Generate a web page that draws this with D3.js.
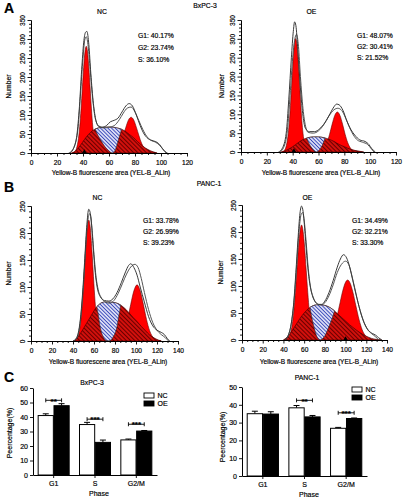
<!DOCTYPE html>
<html><head><meta charset="utf-8">
<script src="https://cdn.jsdelivr.net/npm/d3@7"></script>
<style>
body{margin:0;background:#fff}
svg{display:block}
text{font-family:"Liberation Sans",Arial,sans-serif;fill:#000;stroke:#000;stroke-width:0.18px}
</style>
</head><body>
<svg id="c" width="403" height="500"></svg>
<script>
// ================= DATA =================
// histogram axis ticks
const xTicksA = [0,20,40,60,80,100,120];
const yTicksA = [0,50,100,150,200,250,300,350];
const xTicksB = [0,20,40,60,80,100,120,140];
const yTicksB = [0,50,100,150,200,250];

// Panel A (BxPC-3) NC : [fluorescence, count]
const aNcG1 = [[31,0],[33.5,3],[35,12],[36.5,38],[37.5,70],[38.5,116],[39.5,171],[40.5,225],[41.5,266],[42.5,281],[43.5,266],[44.5,225],[45.5,171],[46.5,116],[47.5,70],[48.5,38],[50,12],[51.5,3],[54,0]];
const aNcG2 = [[60,0],[62,1],[65,5],[67,13],[69,26],[71,46],[73,68],[75,87],[77,94],[79,87],[81,68],[83,46],[85,26],[87,13],[89,5],[92,1],[94,0]];
const aNcS = [[32,0],[35,8],[38,20],[41,35],[44,48],[47,58],[50,64],[54,67],[58,68],[62,68],[66,66],[70,62],[73,56],[76,48],[79,40],[82,30],[86,18],[90,9],[94,3],[97,0]];
const aNcGap = [[48,80],[49.5,62],[51,50],[54,32],[57,16],[60,5],[62.5,0],[64.5,6],[66,20],[67.5,38],[69,55],[70.5,70],[72,80]];
const aNcRaw = [[29,0],[32,8],[35,40],[37,110],[39,220],[40.5,290],[42,318],[43,320],[44.5,285],[46,210],[48,130],[50,85],[52,70],[55,68],[58,72],[61,82],[64,86],[67,92],[70,108],[73,124],[75.5,130],[78,124],[81,100],[84,72],[87,50],[90,38],[94,32],[97,28],[99,22],[101,12],[103,4],[105,0]];
const aNcFit = [[30,0],[33,15],[36,60],[38,150],[40,250],[41.5,300],[42.5,306],[44,280],[45.5,220],[47.5,140],[49.5,90],[52,72],[56,66],[60,68],[64,72],[68,88],[71,105],[74,118],[77,121],[80,108],[83,85],[86,62],[89,44],[92,34],[96,28],[99,20],[102,8],[104,0]];
const aNcStats = ["G1: 40.17%","G2: 23.74%","S: 36.10%"];
const aNcMarker = [41];

// Panel A (BxPC-3) OE
const aOeG1 = [[31,0],[33.3,3],[34.8,13],[36.3,41],[37.3,75],[38.3,124],[39.3,183],[40.3,241],[41.3,285],[42.3,301],[43.3,285],[44.3,241],[45.3,183],[46.3,124],[47.3,75],[48.3,41],[49.8,13],[51.3,3],[54,0]];
const aOeG2 = [[58,0],[60.6,1],[62.6,4],[64.6,11],[66.6,25],[68.6,47],[70.6,74],[72.6,97],[74.6,106],[76.6,97],[78.6,74],[80.6,47],[82.6,25],[84.6,11],[86.6,4],[88.6,1],[91,0]];
const aOeS = [[32,0],[36,6],[40,14],[44,24],[48,33],[52,38],[56,40],[60,40],[64,38],[68,34],[72,28],[76,20],[80,14],[85,7],[90,3],[95,0]];
const aOeGap = [[49.5,50],[51,36],[52.5,24],[54.5,12],[56.5,4],[58.5,0],[60.5,5],[62.5,15],[64,27],[65.5,40],[67,50]];
const aOeRaw = [[29,0],[32,10],[35,50],[37,140],[39,250],[40.5,320],[41.5,345],[42.5,335],[44,270],[46,170],[48,95],[50,62],[53,54],[57,54],[61,62],[65,78],[69,102],[72,120],[74,127],[76,125],[79,110],[82,82],[85,60],[88,45],[92,32],[96,28],[99,20],[101,10],[104,0]];
const aOeFit = [[30,0],[33,12],[36,60],[38,150],[40,250],[42,305],[43,312],[44.5,280],[46,200],[48,115],[50,68],[52,52],[56,50],[60,56],[64,72],[68,95],[72,112],[75,116],[78,110],[81,90],[84,65],[87,45],[90,32],[94,26],[98,20],[101,8],[103,0]];
const aOeStats = ["G1: 48.07%","G2: 30.41%","S: 21.52%"];
const aOeMarker = [41];

// Panel B (PANC-1) NC
const bNcG1 = [[40,0],[42,1],[44,5],[46,18],[47.5,39],[49,73],[50.5,119],[52,169],[53.5,209],[55,224],[56.5,209],[58,169],[59.5,119],[61,73],[62.5,39],[64,18],[66,5],[68,1],[70,0]];
const bNcG2 = [[78,0],[81,1],[85,5],[89,19],[92,40],[95,68],[98,93],[101,104],[104,93],[107,68],[110,40],[113,19],[117,5],[121,1],[124,0]];
const bNcS = [[41,0],[45,8],[49,20],[53,33],[57,46],[61,59],[65,68],[70,72],[75,72],[80,71],[85,67],[89,61],[93,53],[97,44],[101,36],[105,27],[109,19],[113,11],[117,6],[121,2],[124,0]];
const bNcGap = [[62,80],[63,60],[64,50],[65.5,30],[67,17],[69,7],[71,1.5],[73.5,0],[76,1.5],[78,7],[80.5,17],[82,28],[83.5,45],[85,62],[86,80]];
const bNcRaw = [[40,0],[43,5],[45,15],[47,40],[49,85],[51,145],[53,210],[55,244],[57,230],[59,180],[61,130],[63,100],[66,82],[70,75],[74,74],[78,78],[82,90],[86,108],[90,128],[93,140],[95,143],[98,136],[101,122],[104,100],[108,72],[112,45],[116,28],[120,20],[124,16],[127,12],[130,4],[132,0]];
const bNcFit = [[41,0],[44,7],[46,22],[48,55],[50,105],[52,170],[54,222],[56,236],[58,210],[60,160],[62,118],[64,95],[67,80],[71,72],[75,70],[79,75],[83,88],[87,106],[91,124],[95,137],[99,142],[102,136],[105,116],[108,90],[112,58],[116,34],[120,20],[124,12],[128,6],[131,0]];
const bNcStats = ["G1: 33.78%","G2: 26.99%","S: 39.23%"];
const bNcMarker = [];

// Panel B (PANC-1) OE
const bOeG1 = [[41,0],[44,2],[46.5,11],[48.5,29],[50,53],[51.5,88],[53,129],[54.5,171],[56,201],[57.5,213],[59,201],[60.5,171],[62,129],[63.5,88],[65,53],[66.5,29],[68.5,11],[71,2],[74,0]];
const bOeG2 = [[77,0],[80,1.5],[84,6],[88,19],[91,38],[94,63],[97,89],[100,107],[102,111],[104,107],[107,89],[110,63],[113,38],[116,19],[120,6],[124,1.5],[127,0]];
const bOeS = [[40,0],[44,6],[48,16],[52,28],[56,40],[60,50],[64,58],[68,63],[72,65],[76,65],[80,64],[84,61],[88,56],[92,49],[96,42],[100,35],[104,28],[108,22],[112,16],[116,11],[120,7],[125,3],[130,1],[135,0]];
const bOeGap = [[64,80],[65.5,62],[67.3,43],[69.8,22],[72,8],[74,1.5],[75.5,0],[77,1.5],[80,8],[83.3,22],[87.5,43],[90,60],[91.5,80]];
const bOeRaw = [[41,0],[44,6],[47,25],[50,70],[52,125],[54,185],[56,235],[57.5,248],[59,238],[61,195],[63,145],[65,110],[68,82],[71,70],[74,66],[77,66],[80,72],[84,88],[88,110],[92,135],[95,150],[98,158],[101,152],[104,135],[107,110],[110,85],[114,55],[118,32],[122,18],[126,12],[129,9],[132,4],[135,0]];
const bOeFit = [[42,0],[45,10],[48,35],[51,90],[53,145],[55,200],[57,232],[58.5,236],[60,222],[62,180],[64,132],[66,100],[69,78],[72,68],[76,65],[80,69],[84,82],[88,102],[92,125],[96,140],[100,146],[103,140],[106,120],[109,95],[113,62],[117,36],[121,20],[125,12],[129,6],[132,0]];
const bOeStats = ["G1: 34.49%","G2: 32.21%","S: 33.30%"];
const bOeMarker = [100];

// Panel C bar charts
const phases = ["G1","S","G2/M"];
const groups = ["NC","OE"];
const bxNC = [41.0, 34.8, 24.2];
const bxNCErr = [1.2, 1.5, 0.6];
const bxOE = [47.8, 22.5, 30.3];
const bxOEErr = [1.4, 1.6, 0.4];
const bxSig = [["G1","**",51.5],["S","***",38.5],["G2/M","***",35]];
const pcNC = [35.0, 38.3, 26.8];
const pcNCErr = [1.4, 1.3, 0.5];
const pcOE = [34.8, 33.2, 32.3];
const pcOEErr = [1.3, 0.8, 0.3];
const pcSig = [["S","**",42.5],["G2/M","***",35.5]];
const yTicksBx = [0,10,20,30,40,50,60];
const yTicksPc = [0,10,20,30,40,50];

// ================= DRAW =================
const svg = d3.select("#c");
const defs = svg.append("defs");
const FONT = "'Liberation Sans',Arial,sans-serif";

function hatch(id, bg, fg, period, sw){
  const p = defs.append("pattern").attr("id",id).attr("patternUnits","userSpaceOnUse")
    .attr("width",period).attr("height",period).attr("patternTransform","rotate(-45)");
  p.append("rect").attr("width",period).attr("height",period).attr("fill",bg);
  p.append("rect").attr("x",(period-sw)/2).attr("y",0).attr("width",sw).attr("height",period).attr("fill",fg);
}
hatch("hatchRed","#e4120e","#6a0000",3,1.3);
hatch("hatchBlue","#f4f4ff","#3646b8",2.6,1.1);

function styleAxis(sel, fs){
  sel.select(".domain").attr("stroke","#000").attr("stroke-width",1);
  sel.selectAll(".tick line").attr("stroke","#000").attr("stroke-width",0.9);
  sel.selectAll(".tick text").attr("font-size",fs).attr("font-family",FONT).attr("fill","#000");
}

function drawHist(L, D){
  const x = d3.scaleLinear().domain([0,L.xMax]).range([L.x0,L.x1]);
  const y = d3.scaleLinear().domain([0,L.yMax]).range([L.y0,L.y1]);
  const g = svg.append("g");
  const area = d3.area().x(d=>x(d[0])).y0(y(0)).y1(d=>y(d[1])).curve(d3.curveMonotoneX);
  const line = d3.line().x(d=>x(d[0])).y(d=>y(d[1])).curve(d3.curveMonotoneX);

  // G1 / G2 peaks
  [D.g1, D.g2].forEach(p => g.append("path").attr("d",area(p))
     .attr("fill","#ff0000").attr("stroke","#6a0000").attr("stroke-width",0.6));
  // S-phase dome (hatched)
  g.append("path").attr("d",area(D.s)).attr("fill","url(#hatchRed)")
     .attr("stroke","#4a0000").attr("stroke-width",0.7);
  // blue part of S
  const cid = "gap"+L.id, did = "dome"+L.id;
  defs.append("clipPath").attr("id",cid).append("path")
     .attr("d", d3.area().x(d=>x(d[0])).y0(d=>y(d[1])).y1(L.y1-10).curve(d3.curveMonotoneX)(D.gap));
  defs.append("clipPath").attr("id",did).append("path").attr("d",area(D.s));
  g.append("path").attr("d",area(D.s)).attr("fill","url(#hatchBlue)")
     .attr("stroke","#333").attr("stroke-width",0.6).attr("clip-path",`url(#${cid})`);
  g.append("path").attr("d",line(D.gap)).attr("fill","none").attr("stroke","#333")
     .attr("stroke-width",0.6).attr("clip-path",`url(#${did})`);
  // outline curves
  g.append("path").attr("d",line(D.fit)).attr("fill","none").attr("stroke","#555").attr("stroke-width",1);
  g.append("path").attr("d",line(D.raw)).attr("fill","none").attr("stroke","#3a3a3a").attr("stroke-width",1);

  // axes
  const minorX = d3.range(0, L.xMax+0.01, 5).filter(v => !L.xTicks.includes(v));
  const minorY = d3.range(0, L.yMax+0.01, 10).filter(v => !L.yTicks.includes(v));
  g.append("g").attr("transform",`translate(0,${L.y0})`)
    .call(d3.axisBottom(x).tickValues(minorX).tickSize(2).tickFormat("").tickSizeOuter(0))
    .call(s=>styleAxis(s,6.6));
  g.append("g").attr("transform",`translate(0,${L.y0})`)
    .call(d3.axisBottom(x).tickValues(L.xTicks).tickSize(3.5).tickPadding(3.5).tickSizeOuter(0))
    .call(s=>styleAxis(s,6.6));
  g.append("g").attr("transform",`translate(${L.x0},0)`)
    .call(d3.axisLeft(y).tickValues(minorY).tickSize(2).tickFormat("").tickSizeOuter(0))
    .call(s=>styleAxis(s,6.6));
  const ya = g.append("g").attr("transform",`translate(${L.x0},0)`)
    .call(d3.axisLeft(y).tickValues(L.yTicks).tickSize(3.5).tickSizeOuter(0))
    .call(s=>styleAxis(s,6.6));
  ya.selectAll(".tick text").attr("transform","rotate(-90)").attr("x",0).attr("y",-6)
    .attr("dy",null).attr("text-anchor","middle");

  // markers
  g.selectAll(".mk").data(D.marker).join("path")
    .attr("d", d3.symbol(d3.symbolTriangle).size(13))
    .attr("transform", d=>`translate(${x(d)},${L.y0-0.5})`).attr("fill","#000");

  // texts
  g.append("text").attr("x",(L.x0+L.x1)/2 - 7).attr("y",L.titleY).attr("text-anchor","middle")
    .attr("font-size",6.8).text(L.title);
  D.stats.forEach((t,i)=> g.append("text").attr("x",L.statsX).attr("y",L.statsY[i]).attr("dy","0.35em")
    .attr("font-size",6.8).text(t));
  g.append("text").attr("transform",`translate(${L.numX},${(L.y0+L.y1)/2}) rotate(-90)`)
    .attr("text-anchor","middle").attr("dy","0.35em").attr("font-size",6.8).text("Number");
  g.append("text").attr("x",L.xTitleX).attr("y",L.xTitleY).attr("dy","0.35em").attr("text-anchor","middle")
    .attr("font-size",6.6).text("Yellow-B fluorescene area (YEL-B_ALin)");
}

drawHist({id:"anc",x0:31,x1:187,y0:153,y1:20,xMax:120,yMax:350,xTicks:xTicksA,yTicks:yTicksA,
  title:"NC",titleY:14,statsX:138,statsY:[36,48,60],numX:9,xTitleX:111,xTitleY:173},
  {g1:aNcG1,g2:aNcG2,s:aNcS,gap:aNcGap,raw:aNcRaw,fit:aNcFit,stats:aNcStats,marker:aNcMarker});
drawHist({id:"aoe",x0:241,x1:396,y0:152,y1:20,xMax:120,yMax:350,xTicks:xTicksA,yTicks:yTicksA,
  title:"OE",titleY:14,statsX:357,statsY:[36,47,58],numX:222,xTitleX:321,xTitleY:173},
  {g1:aOeG1,g2:aOeG2,s:aOeS,gap:aOeGap,raw:aOeRaw,fit:aOeFit,stats:aOeStats,marker:aOeMarker});
drawHist({id:"bnc",x0:31,x1:178,y0:341,y1:206,xMax:140,yMax:250,xTicks:xTicksB,yTicks:yTicksB,
  title:"NC",titleY:200,statsX:143,statsY:[221,232,243],numX:9,xTitleX:108,xTitleY:362},
  {g1:bNcG1,g2:bNcG2,s:bNcS,gap:bNcGap,raw:bNcRaw,fit:bNcFit,stats:bNcStats,marker:bNcMarker});
drawHist({id:"boe",x0:242,x1:387,y0:340,y1:205,xMax:140,yMax:250,xTicks:xTicksB,yTicks:yTicksB,
  title:"OE",titleY:200,statsX:352,statsY:[221,232,243],numX:221,xTitleX:319,xTitleY:362},
  {g1:bOeG1,g2:bOeG2,s:bOeS,gap:bOeGap,raw:bOeRaw,fit:bOeFit,stats:bOeStats,marker:bOeMarker});

// panel letters and cell line names
svg.append("text").attr("x",4).attr("y",13).attr("font-size",14).attr("font-weight","bold").text("A");
svg.append("text").attr("x",4).attr("y",192).attr("font-size",14).attr("font-weight","bold").text("B");
svg.append("text").attr("x",4).attr("y",382).attr("font-size",14).attr("font-weight","bold").text("C");
svg.append("text").attr("x",205).attr("y",7.5).attr("text-anchor","middle").attr("font-size",6.8).text("BxPC-3");
svg.append("text").attr("x",209).attr("y",186).attr("text-anchor","middle").attr("font-size",6.8).text("PANC-1");

function drawBars(L, nc, ncErr, oe, oeErr, sig){
  const x = d3.scaleBand().domain(phases).range([L.x0,L.x1]).paddingInner(0.25).paddingOuter(0.125);
  const xs = d3.scaleBand().domain(groups).range([0,x.bandwidth()]).paddingInner(0.04);
  const y = d3.scaleLinear().domain([0,L.yMax]).range([L.y0,L.y1]);
  const g = svg.append("g");
  const rows = [];
  phases.forEach((p,i)=>{
    rows.push({p, grp:"NC", v:nc[i], e:ncErr[i]});
    rows.push({p, grp:"OE", v:oe[i], e:oeErr[i]});
  });
  const cx = d => x(d.p)+xs(d.grp)+xs.bandwidth()/2;
  // error bars
  g.selectAll(".eb").data(rows).join("line")
    .attr("x1",cx).attr("x2",cx).attr("y1",d=>y(d.v)).attr("y2",d=>y(d.v+d.e))
    .attr("stroke","#000").attr("stroke-width",1);
  g.selectAll(".ec").data(rows).join("line")
    .attr("x1",d=>cx(d)-3).attr("x2",d=>cx(d)+3).attr("y1",d=>y(d.v+d.e)).attr("y2",d=>y(d.v+d.e))
    .attr("stroke","#000").attr("stroke-width",1);
  g.selectAll(".bar").data(rows).join("rect")
    .attr("x",d=>x(d.p)+xs(d.grp)).attr("width",xs.bandwidth())
    .attr("y",d=>y(d.v)).attr("height",d=>y(0)-y(d.v))
    .attr("fill",d=>d.grp==="NC"?"#fff":"#000").attr("stroke","#000").attr("stroke-width",1);

  // significance
  sig.forEach(([p,lab,lv])=>{
    const xa = x(p)+xs("NC")+xs.bandwidth()/2, xb = x(p)+xs("OE")+xs.bandwidth()/2, yy = y(lv);
    g.append("path").attr("d",`M${xa},${yy-2}V${yy+2}M${xa},${yy}H${xb}M${xb},${yy-2}V${yy+2}`)
      .attr("stroke","#000").attr("stroke-width",0.9).attr("fill","none");
    g.append("text").attr("x",(xa+xb)/2).attr("y",yy+3.2).attr("text-anchor","middle")
      .attr("font-size",8).attr("font-weight","bold").text(lab);
  });

  // axes
  g.append("g").attr("transform",`translate(0,${L.y0})`)
    .call(d3.axisBottom(x).tickSize(3).tickPadding(3).tickSizeOuter(0))
    .call(s=>styleAxis(s,7));
  g.append("g").attr("transform",`translate(${L.x0},0)`)
    .call(d3.axisLeft(y).tickValues(L.yTicks).tickSize(3).tickPadding(2).tickSizeOuter(0))
    .call(s=>styleAxis(s,7));

  // titles
  g.append("text").attr("x",L.titleX).attr("y",L.titleY).attr("dy","0.35em").attr("text-anchor","middle")
    .attr("font-size",6.8).text(L.title);
  g.append("text").attr("x",L.phaseX).attr("y",L.phaseY).attr("dy","0.35em").attr("text-anchor","middle")
    .attr("font-size",7).text("Phase");
  g.append("text").attr("transform",`translate(${L.pctX},${L.pctY}) rotate(-90)`)
    .attr("text-anchor","middle").attr("dy","0.35em").attr("font-size",7).text("Peercentage(%)");
  // legend
  groups.forEach((k,i)=>{
    g.append("rect").attr("x",L.legX).attr("y",L.legY+i*8).attr("width",10).attr("height",5)
      .attr("fill",k==="NC"?"#fff":"#000").attr("stroke","#000").attr("stroke-width",0.9);
    g.append("text").attr("x",L.legX+13.5).attr("y",L.legY+i*8+2.5).attr("dy","0.35em")
      .attr("font-size",7).text(k);
  });
}

drawBars({x0:33,x1:157,y0:475,y1:388,yMax:60,yTicks:yTicksBx,title:"BxPC-3",titleX:92,titleY:383,
  phaseX:99,phaseY:494,pctX:10,pctY:433,legX:144,legY:393}, bxNC, bxNCErr, bxOE, bxOEErr, bxSig);
drawBars({x0:242,x1:367,y0:476,y1:387,yMax:50,yTicks:yTicksPc,title:"PANC-1",titleX:307,titleY:378,
  phaseX:309,phaseY:495,pctX:223,pctY:437,legX:352,legY:387}, pcNC, pcNCErr, pcOE, pcOEErr, pcSig);
</script>
</body></html>
